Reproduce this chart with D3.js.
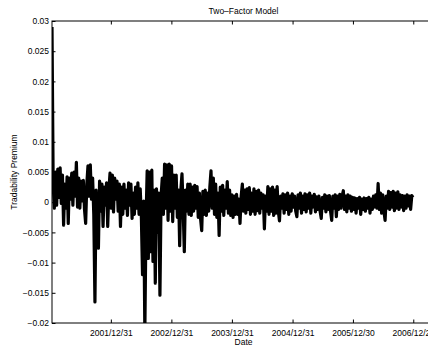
<!DOCTYPE html>
<html>
<head>
<meta charset="utf-8">
<script src="https://cdn.jsdelivr.net/npm/d3@7"></script>
<style>
  html, body { margin: 0; padding: 0; background: #fff; }
  svg { display: block; }
  text { font-family: "Liberation Sans", Arial, Helvetica, sans-serif; fill: #000; }
</style>
</head>
<body>
<svg id="chart" width="428" height="348"></svg>
<script>
// ---------------- data ----------------
const titleText = "Two\u2013Factor Model";
const xLabelText = "Date";
const yLabelText = "Tradability Premium";

const startDate = new Date(2001, 0, 10);   // first observation
const stepDays = 7;                          // weekly samples

const premium = [
  0.0290, 0.0030, -0.0010, 0.0050, -0.0005, 0.0055, 0.0008, 0.0057, -0.0002, 0.0045,
  -0.0038, 0.0030, -0.0010, 0.0042, -0.0035, 0.0040, 0.0005, 0.0048, -0.0005, 0.0050,
  0.0010, 0.0066, -0.0008, 0.0040, -0.0010, 0.0035, 0.0002, 0.0036, -0.0012, -0.0035,
  0.0030, 0.0060, 0.0010, 0.0062, 0.0005, 0.0040, -0.0020, -0.0165, 0.0020, -0.0030,
  -0.0076, 0.0035, -0.0015, 0.0030, -0.0040, 0.0025, -0.0005, 0.0032, -0.0040, 0.0020,
  0.0048, -0.0010, 0.0045, -0.0016, 0.0040, 0.0005, 0.0035, -0.0015, 0.0030, -0.0040,
  0.0025, -0.0020, 0.0030, -0.0010, 0.0020, -0.0022, 0.0032, -0.0005, 0.0030, -0.0027,
  0.0015, -0.0020, 0.0025, -0.0010, 0.0032, -0.0020, 0.0022, -0.0025, -0.0120, 0.0002,
  -0.0215, -0.0030, 0.0052, -0.0093, 0.0050, -0.0082, 0.0053, -0.0098, 0.0020, -0.0134,
  0.0022, -0.0050, 0.0015, -0.0154, 0.0010, 0.0040, -0.0020, 0.0063, -0.0010, 0.0062,
  -0.0030, 0.0063, -0.0015, 0.0060, -0.0032, 0.0045, -0.0010, 0.0045, -0.0025, 0.0020,
  -0.0072, 0.0020, 0.0047, -0.0010, -0.0082, 0.0020, -0.0015, 0.0030, -0.0020, 0.0030,
  -0.0022, 0.0025, -0.0015, 0.0028, -0.0010, 0.0026, -0.0025, 0.0015, -0.0027, -0.0047,
  0.0018, -0.0020, 0.0020, -0.0022, 0.0015, -0.0015, 0.0025, 0.0052, -0.0010, 0.0040,
  -0.0020, 0.0030, -0.0025, 0.0015, -0.0055, 0.0025, -0.0015, 0.0028, -0.0022, 0.0020,
  -0.0010, 0.0034, -0.0018, 0.0020, -0.0022, 0.0012, -0.0025, 0.0010, -0.0020, 0.0013,
  -0.0020, 0.0005, -0.0035, 0.0010, 0.0030, -0.0015, 0.0020, -0.0018, 0.0022, -0.0012,
  0.0024, -0.0020, 0.0015, -0.0015, 0.0022, -0.0020, 0.0018, -0.0014, 0.0020, -0.0018,
  0.0015, -0.0010, 0.0012, -0.0044, 0.0010, -0.0015, 0.0026, -0.0020, 0.0022, -0.0015,
  0.0025, -0.0022, 0.0020, -0.0018, 0.0026, -0.0015, -0.0031, 0.0010, -0.0010, 0.0014,
  -0.0018, 0.0012, -0.0012, 0.0015, -0.0020, 0.0010, -0.0015, 0.0014, -0.0008, 0.0010,
  -0.0015, -0.0024, 0.0012, -0.0010, 0.0015, -0.0018, 0.0010, -0.0012, 0.0014, -0.0016,
  0.0012, -0.0010, 0.0015, -0.0018, 0.0010, -0.0008, 0.0013, -0.0016, 0.0009, -0.0012,
  0.0010, -0.0015, -0.0027, 0.0008, -0.0010, 0.0012, -0.0016, 0.0010, -0.0012, 0.0011,
  -0.0015, -0.0030, 0.0010, -0.0010, 0.0012, -0.0024, 0.0010, -0.0012, 0.0013, -0.0010,
  0.0010, 0.0019, -0.0012, 0.0010, -0.0016, 0.0012, -0.0010, 0.0010, -0.0015, 0.0008,
  -0.0012, 0.0007, -0.0018, 0.0006, -0.0010, 0.0008, -0.0020, 0.0005, -0.0012, 0.0007,
  -0.0015, 0.0006, -0.0010, 0.0008, -0.0018, 0.0005, -0.0012, 0.0010, -0.0008, 0.0012,
  -0.0010, 0.0031, -0.0012, 0.0015, -0.0018, 0.0012, -0.0015, -0.0030, 0.0010, -0.0010,
  0.0018, -0.0012, 0.0016, -0.0008, 0.0018, -0.0014, 0.0015, -0.0010, 0.0017, -0.0012,
  0.0012, -0.0008, 0.0011, -0.0014, 0.0010, -0.0010, 0.0012, -0.0006, 0.0010, -0.0012,
  0.0011, 0.0008
];

const xTickDates = [
  new Date(2001, 11, 31), new Date(2002, 11, 31), new Date(2003, 11, 31),
  new Date(2004, 11, 31), new Date(2005, 11, 30), new Date(2006, 11, 29)
];
const xTickLabels = ["2001/12/31", "2002/12/31", "2003/12/31", "2004/12/31", "2005/12/30", "2006/12/29"];

const yTicks = [-0.02, -0.015, -0.01, -0.005, 0, 0.005, 0.01, 0.015, 0.02, 0.025, 0.03];
const yTickLabels = ["\u22120.02", "\u22120.015", "\u22120.01", "\u22120.005", "0", "0.005", "0.01", "0.015", "0.02", "0.025", "0.03"];

const xDomain = [new Date(2001, 0, 10), new Date(2007, 4, 9)];
const yDomain = [-0.02, 0.03];

(function draw() {
  const mLeft = 52, mRight = 435, mTop = 21, mBottom = 323;
  const fontSize = 8.5;
  const fontFam = "'Liberation Sans', Arial, sans-serif";

  const svg = d3.select("#chart");
  const x = d3.scaleTime().domain(xDomain).range([mLeft, mRight]);
  const y = d3.scaleLinear().domain(yDomain).range([mBottom, mTop]);

  const series = premium.map((v, i) => ({ date: d3.timeDay.offset(startDate, i * stepDays), value: v }));

  svg.append("defs").append("clipPath").attr("id", "plotclip")
    .append("rect").attr("x", mLeft).attr("y", mTop).attr("width", mRight - mLeft).attr("height", mBottom - mTop);

  const line = d3.line().x(d => x(d.date)).y(d => y(d.value));
  svg.append("path")
    .datum(series)
    .attr("clip-path", "url(#plotclip)")
    .attr("fill", "none")
    .attr("stroke", "#000")
    .attr("stroke-width", 3.2)
    .attr("stroke-linejoin", "round")
    .attr("d", line);

  const tickLen = 3.5;
  const axisColor = "#000";

  const xAxisBottom = d3.axisBottom(x).tickValues(xTickDates).tickSizeInner(-tickLen).tickSizeOuter(0)
    .tickFormat((d, i) => xTickLabels[i]);
  const gb = svg.append("g").attr("transform", `translate(0,${mBottom})`).call(xAxisBottom);
  gb.select(".domain").remove();
  gb.selectAll(".tick line").attr("stroke", axisColor);
  gb.selectAll(".tick text").attr("y", 7).attr("dy", "0.71em")
    .style("font-size", fontSize + "px").style("font-family", fontFam);

  const xAxisTop = d3.axisTop(x).tickValues(xTickDates).tickSizeInner(-tickLen).tickSizeOuter(0).tickFormat("");
  const gt = svg.append("g").attr("transform", `translate(0,${mTop})`).call(xAxisTop);
  gt.select(".domain").remove();
  gt.selectAll(".tick line").attr("stroke", axisColor);

  const yAxisLeft = d3.axisLeft(y).tickValues(yTicks).tickSizeInner(-tickLen).tickSizeOuter(0)
    .tickFormat((d, i) => yTickLabels[i]);
  const gl = svg.append("g").attr("transform", `translate(${mLeft},0)`).call(yAxisLeft);
  gl.select(".domain").remove();
  gl.selectAll(".tick line").attr("stroke", axisColor);
  gl.selectAll(".tick text").attr("x", -3)
    .style("font-size", fontSize + "px").style("font-family", fontFam);

  svg.append("rect")
    .attr("x", mLeft).attr("y", mTop)
    .attr("width", mRight - mLeft).attr("height", mBottom - mTop)
    .attr("fill", "none").attr("stroke", axisColor).attr("stroke-width", 1);

  svg.append("text")
    .attr("x", (mLeft + mRight) / 2).attr("y", 14)
    .attr("text-anchor", "middle")
    .style("font-size", fontSize + "px")
    .text(titleText);

  svg.append("text")
    .attr("x", (mLeft + mRight) / 2).attr("y", 345)
    .attr("text-anchor", "middle")
    .style("font-size", fontSize + "px")
    .text(xLabelText);

  svg.append("text")
    .attr("transform", `translate(17,${(mTop + mBottom) / 2}) rotate(-90)`)
    .attr("text-anchor", "middle")
    .style("font-size", fontSize + "px")
    .text(yLabelText);
})();
</script>
</body>
</html>
